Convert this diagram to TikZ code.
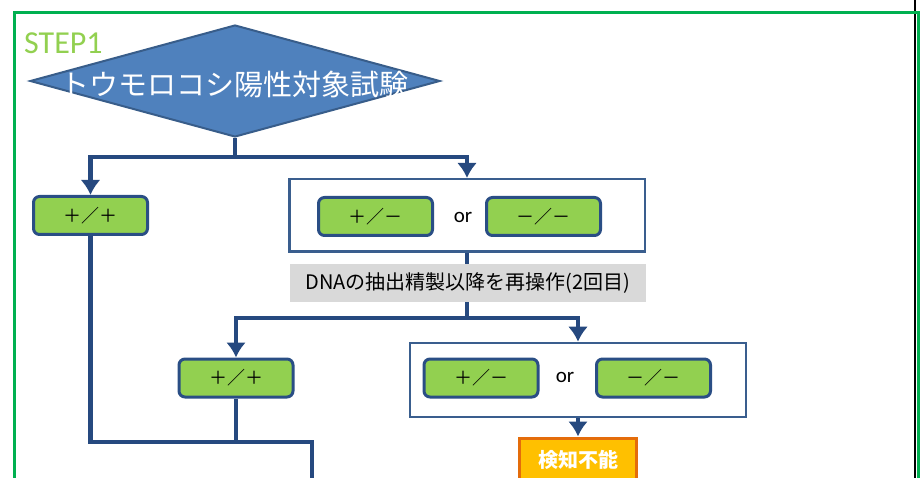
\documentclass[tikz,border=0pt]{standalone}
\usepackage{fontspec}
\setmainfont{Carlito}
\newfontfamily\cjk{Noto Sans CJK JP}
\usetikzlibrary{shapes.geometric,arrows.meta}
\definecolor{lineblue}{HTML}{26497F}
\definecolor{boxblue}{HTML}{2A4E85}
\definecolor{bigblue}{HTML}{3A5E8E}
\definecolor{diafill}{HTML}{4F81BD}
\definecolor{diaborder}{HTML}{385D8A}
\definecolor{gfill}{HTML}{92D050}
\definecolor{graylab}{HTML}{D9D9D9}
\definecolor{orfill}{HTML}{FFC000}
\definecolor{orborder}{HTML}{E46C0A}
\definecolor{framegreen}{HTML}{00B050}
\definecolor{steptext}{HTML}{92D050}
\begin{document}
\begin{tikzpicture}[x=1pt,y=-1pt,
  conn/.style={draw=lineblue, line width=4.5pt},
  arr/.style={-{Latex[length=15pt,width=20pt]}},
  gbox/.style={draw=boxblue, line width=3pt, fill=gfill, rounded corners=6pt,
    minimum width=114pt, minimum height=38pt, inner sep=0pt,
    font=\cjk\fontsize{18}{18}\selectfont},
  bigbox/.style={draw=bigblue, line width=2.5pt, fill=white, inner sep=0pt},
  ortext/.style={font=\fontsize{21}{21}\selectfont, inner sep=0pt}]
\useasboundingbox (0,0) rectangle (921,478);
\clip (0,0) rectangle (921,478);
% frame
\draw[black, line width=2pt] (915,-5) -- (915,500);
\draw[framegreen, line width=3pt] (14,500) -- (14,13) -- (918,13) -- (918,500);
% diamond
\node[diamond, draw=diaborder, line width=2pt, fill=diafill, minimum width=410pt,
  minimum height=112pt, inner sep=0pt] (dia) at (235,81) {};
\node[text=white, font=\cjk\fontsize{29}{29}\selectfont, inner sep=0pt] (diat) at (234,84) {トウモロコシ陽性対象試験};
\node[text=steptext, font=\fontsize{32}{32}\selectfont, anchor=west, inner sep=0pt] (step) at (24,43) {STEP1};
% first level
\node[gbox] (pp1) at (90.5,215.5) {＋／＋};
\node[bigbox, minimum width=355.5pt, minimum height=72.5pt] (big1) at (467,215.5) {};
\node[gbox] (pm1) at (375.5,216.5) {＋／－};
\node[ortext] (or1) at (463,217) {or};
\node[gbox] (mm1) at (543.5,216.5) {－／－};
\coordinate (j1) at (235,157);
\draw[conn] (dia.south) -- (j1);
\draw[conn,arr] (j1) -| (pp1.north);
\draw[conn,arr] (j1) -| (big1.north);
% second level
\coordinate (j2) at (467,318);
\draw[conn] (big1.south) -- (j2);
\node[fill=graylab, minimum width=356pt, minimum height=38pt, inner sep=0pt,
  font=\cjk\fontsize{20}{20}\selectfont] (lab) at (468,283) {DNAの抽出精製以降を再操作(2回目)};
\node[gbox] (pp2) at (236,378) {＋／＋};
\node[bigbox, minimum width=336pt, minimum height=74pt] (big2) at (578,380) {};
\node[gbox] (pm2) at (481,378) {＋／－};
\node[ortext] (or2) at (565,377) {or};
\node[gbox] (mm2) at (653.5,378) {－／－};
\draw[conn,arr] (j2) -| (pp2.north);
\draw[conn,arr] (j2) -| (big2.north);
% detection impossible
\node[draw=orborder, line width=3pt, fill=orfill, minimum width=117pt, minimum height=44pt,
  inner sep=0pt, text=white, font=\cjk\bfseries\fontsize{20}{20}\selectfont] (det) at (578,460) {検知不能};
\draw[conn,arr] (big2.south) -- (det.north);
% bottom joins
\coordinate (j3) at (236,442);
\coordinate (exit) at (312,495);
\draw[conn] (pp1.south) |- (j3);
\draw[conn] (pp2.south) -- (j3) -| (exit);
\end{tikzpicture}
\end{document}
